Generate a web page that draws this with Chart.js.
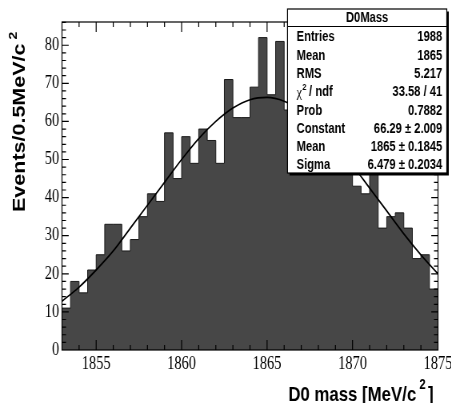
<!DOCTYPE html>
<html>
<head>
<meta charset="utf-8">
<script src="https://cdn.jsdelivr.net/npm/chart.js@4.4.1/dist/chart.umd.min.js"></script>
<style>
    html, body { margin: 0; padding: 0; background: #fff; overflow: hidden; }
    /* 原圖橫向壓縮約 0.8 */
    #wrap { width: 564px; height: 403px; transform: scaleX(0.8); transform-origin: 0 0; }
</style>
</head>
<body>
<div id="wrap"><canvas id="d0-chart" width="564" height="403"></canvas></div>
<script>
// 直方圖資料 (D0 mass, 每格 0.5 MeV)
const massRange = [1853, 1875];
const binWidth = 0.5;
const counts = [
    11, 18, 15, 21, 25, 33, 33, 26, 29, 35, 41, 39, 57, 45, 56, 49, 58, 55, 49, 71, 61, 61,
    69, 82, 67, 81, 63, 63, 61, 64, 57, 58, 52, 51, 43, 41, 48, 32, 35, 36, 32, 24, 25, 16
];

// 高斯擬合曲線
const fitMass = [1853, 1854, 1855, 1856, 1857, 1858, 1859, 1860, 1861, 1862, 1863, 1864,
    1865, 1866, 1867, 1868, 1869, 1870, 1871, 1872, 1873, 1874, 1875];
const fitValues = [12.8, 16.5, 21, 26, 32, 38, 44, 50, 55.5, 60, 63.5, 65.7,
    66.3, 65.3, 62.8, 59, 54, 48.5, 42.5, 36.5, 30.5, 25, 20];

// 座標軸
const xTickValues = [1855, 1860, 1865, 1870, 1875];
const yTickValues = [0, 10, 20, 30, 40, 50, 60, 70, 80];
const yMax = 86.1;

// 統計框
const statsTitle = 'D0Mass';
const statNames = ['Entries', 'Mean', 'RMS', 'chi2', 'Prob', 'Constant', 'Mean', 'Sigma'];
const statValues = ['1988', '1865', '5.217', '33.58 / 41', '0.7882',
    '66.29 \u00b1 2.009', '1865 \u00b1 0.1845', '6.479 \u00b1 0.2034'];

const SANS = '"Liberation Sans", Arial, Helvetica, sans-serif';
const SERIF = '"Liberation Serif", "Times New Roman", serif';

// 統計框
function drawStatsBox(ctx) {
    const left = 359.4, top = 9, right = 558.5, bottom = 173;
    ctx.save();
    ctx.fillStyle = '#000';
    ctx.fillRect(left + 2.5, top + 2.5, right - left, bottom - top);
    ctx.fillStyle = '#fff';
    ctx.fillRect(left, top, right - left, bottom - top);
    ctx.strokeStyle = '#000';
    ctx.lineWidth = 1.2;
    ctx.strokeRect(left, top, right - left, bottom - top);
    ctx.beginPath();
    ctx.moveTo(left, 26.5);
    ctx.lineTo(right, 26.5);
    ctx.stroke();

    ctx.fillStyle = '#000';
    ctx.textBaseline = 'middle';
    ctx.font = 'bold 14px ' + SANS;
    ctx.textAlign = 'center';
    ctx.fillText(statsTitle, (left + right) / 2, 18.5);

    statNames.forEach((name, i) => {
        const y = 37.5 + i * 18.3;
        ctx.textAlign = 'left';
        if (name === 'chi2') {
            ctx.font = '15px ' + SERIF;
            ctx.fillText('\u03c7', 370.8, y + 1);
            const w = ctx.measureText('\u03c7').width;
            ctx.font = 'bold 9px ' + SANS;
            ctx.fillText('2', 370.8 + w + 0.5, y - 5);
            ctx.font = 'bold 14px ' + SANS;
            ctx.fillText(' / ndf', 370.8 + w + 5, y);
        } else {
            ctx.font = 'bold 14px ' + SANS;
            ctx.fillText(name, 370.8, y);
        }
        ctx.font = 'bold 14px ' + SANS;
        ctx.textAlign = 'right';
        ctx.fillText(statValues[i], 552.9, y);
    });
    ctx.restore();
}

// 座標軸標題
function drawAxisTitles(ctx) {
    ctx.save();
    ctx.fillStyle = '#000';
    ctx.textAlign = 'left';
    ctx.textBaseline = 'alphabetic';

    // x 軸
    ctx.font = 'bold 21px ' + SANS;
    const main = 'D0 mass [MeV/c';
    const x0 = 360.4;
    ctx.fillText(main, x0, 401);
    let x = x0 + ctx.measureText(main).width + 4;
    ctx.font = 'bold 14px ' + SANS;
    ctx.fillText('2', x, 389);
    x += ctx.measureText('2').width + 3;
    ctx.font = 'bold 21px ' + SANS;
    ctx.fillText(']', x, 401);

    // y 軸
    ctx.translate(31.3, 212);
    ctx.rotate(-Math.PI / 2);
    ctx.font = 'bold 21.5px ' + SANS;
    const ytitle = 'Events/0.5MeV/c';
    ctx.fillText(ytitle, 0, 0);
    const w = ctx.measureText(ytitle).width;
    ctx.font = 'bold 14px ' + SANS;
    ctx.fillText('2', w + 4, -10);
    ctx.restore();
}

// ROOT 風格外框與刻度
const rootFramePlugin = {
    id: 'rootFrame',
    afterDatasetsDraw(chart) {
        const { ctx, chartArea: a, scales: { x, y } } = chart;
        ctx.save();
        ctx.strokeStyle = '#000';
        ctx.lineWidth = 1.2;
        ctx.beginPath();
        for (let m = massRange[0] + 1; m < massRange[1]; m += 1) {
            const px = x.getPixelForValue(m);
            const len = m % 5 === 0 ? 10 : 5;
            ctx.moveTo(px, a.bottom);
            ctx.lineTo(px, a.bottom - len);
            ctx.moveTo(px, a.top);
            ctx.lineTo(px, a.top + len);
        }
        for (let v = 2; v < yMax; v += 2) {
            const py = y.getPixelForValue(v);
            const len = v % 10 === 0 ? 8.4 : 5;
            ctx.moveTo(a.left, py);
            ctx.lineTo(a.left + len, py);
            ctx.moveTo(a.right, py);
            ctx.lineTo(a.right - len, py);
        }
        ctx.stroke();
        ctx.strokeRect(a.left, a.top, a.width, a.height);
        ctx.restore();
    },
    afterDraw(chart) {
        drawStatsBox(chart.ctx);
        drawAxisTitles(chart.ctx);
    }
};

// 初始化圖表
function initChart() {
    const ctx = document.getElementById('d0-chart').getContext('2d');
    const histData = counts.map((c, i) => ({ x: massRange[0] + binWidth * i, y: c }));
    histData.push({ x: massRange[1], y: counts[counts.length - 1] });
    const fitData = fitMass.map((m, i) => ({ x: m, y: fitValues[i] }));

    new Chart(ctx, {
        type: 'line',
        data: {
            datasets: [
                {
                    label: 'gaus',
                    data: fitData,
                    borderColor: '#000',
                    borderWidth: 1.7,
                    pointRadius: 0,
                    cubicInterpolationMode: 'monotone',
                    fill: false,
                    order: 0
                },
                {
                    label: 'D0Mass',
                    data: histData,
                    stepped: 'before',
                    borderColor: '#1a1a1a',
                    borderWidth: 1,
                    backgroundColor: '#474747',
                    pointRadius: 0,
                    fill: 'origin',
                    order: 1
                }
            ]
        },
        options: {
            responsive: false,
            animation: false,
            events: [],
            layout: { padding: { top: 22, right: 16.5, left: 0, bottom: 0 } },
            plugins: {
                legend: { display: false },
                tooltip: { enabled: false }
            },
            scales: {
                x: {
                    type: 'linear',
                    min: massRange[0],
                    max: massRange[1],
                    grid: { display: false, drawTicks: false },
                    border: { display: false },
                    ticks: {
                        font: { family: SERIF, size: 18 },
                        color: '#000',
                        padding: 3,
                        maxRotation: 0,
                        autoSkip: false,
                        callback: v => String(v)
                    },
                    afterBuildTicks: s => { s.ticks = xTickValues.map(v => ({ value: v })); },
                    afterFit: s => { s.height = 53; s.paddingLeft = 0; s.paddingRight = 0; }
                },
                y: {
                    min: 0,
                    max: yMax,
                    grid: { display: false, drawTicks: false },
                    border: { display: false },
                    ticks: {
                        font: { family: SERIF, size: 18 },
                        color: '#000',
                        padding: 3.5,
                        callback: v => String(v)
                    },
                    afterBuildTicks: s => { s.ticks = yTickValues.map(v => ({ value: v })); },
                    afterFit: s => { s.width = 77.5; s.paddingTop = 0; s.paddingBottom = 0; }
                }
            }
        },
        plugins: [rootFramePlugin]
    });
}

document.addEventListener('DOMContentLoaded', () => {
    initChart();
});
</script>
</body>
</html>
